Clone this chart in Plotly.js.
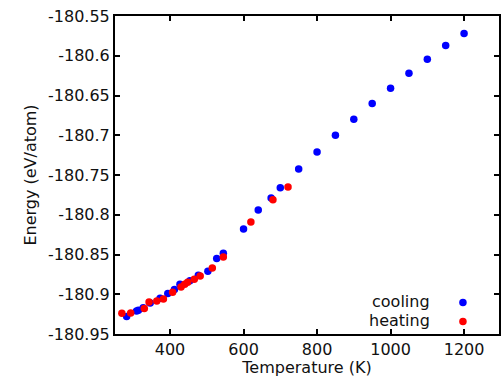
<!DOCTYPE html>
<html>
<head>
<meta charset="utf-8">
<script src="https://cdn.plot.ly/plotly-3.0.1.min.js"></script>
<style>html,body{margin:0;padding:0;background:#fff;}#chart{width:501px;height:377px;}</style>
</head>
<body>
<div id="chart"></div>
<script>
const coolingT = [1200,1150,1100,1050,1000,950,900,850,800,750,700,675,640,600,545,527,503,477,454,427,412,394,373,346,327,314,309,282];
const coolingE = [-180.572,-180.587,-180.6045,-180.622,-180.641,-180.66,-180.68,-180.700,-180.721,-180.7425,-180.766,-180.779,-180.794,-180.818,-180.8485,-180.855,-180.871,-180.876,-180.883,-180.8875,-180.894,-180.899,-180.905,-180.911,-180.917,-180.920,-180.921,-180.928];
const heatingT = [269,293,330,343,364,382,407,430,440,448,466,482,515,545,620,680,721];
const heatingE = [-180.924,-180.9236,-180.918,-180.9097,-180.9085,-180.906,-180.8975,-180.891,-180.8875,-180.885,-180.881,-180.877,-180.867,-180.853,-180.809,-180.781,-180.765];
const xTickVals = [400,600,800,1000,1200];
const xTickText = ['400','600','800','1000','1200'];
const yTickVals = [-180.55,-180.6,-180.65,-180.7,-180.75,-180.8,-180.85,-180.9,-180.95];
const yTickText = ['-180.55','-180.6','-180.65','-180.7','-180.75','-180.8','-180.85','-180.9','-180.95'];
const seriesNames = ['cooling','heating'];

const font = {family: 'DejaVu Sans', size: 16, color: '#111'};
const traces = [
  {x: coolingT, y: coolingE, type: 'scatter', mode: 'markers', name: ' ',
   marker: {color: '#0000ff', size: 7.5}},
  {x: heatingT, y: heatingE, type: 'scatter', mode: 'markers', name: ' ',
   marker: {color: '#ff0000', size: 7.5}}
];
const axisCommon = {
  showgrid: false, zeroline: false, showline: true, linewidth: 2, linecolor: '#000',
  mirror: 'ticks', ticks: 'inside', ticklen: 5, tickwidth: 2, tickcolor: '#000',
  tickfont: font
};
const layout = {
  width: 501, height: 377,
  margin: {l: 115, r: 2, t: 16, b: 43},
  paper_bgcolor: '#fff', plot_bgcolor: '#fff',
  font: font,
  xaxis: Object.assign({}, axisCommon, {
    range: [250.3, 1295], tickmode: 'array', tickvals: xTickVals, ticktext: xTickText,
    title: {text: 'Temperature (K)', font: font, standoff: 3}
  }),
  yaxis: Object.assign({}, axisCommon, {
    range: [-180.95, -180.55], tickmode: 'array', tickvals: yTickVals, ticktext: yTickText,
    title: {text: 'Energy (eV/atom)', font: font, standoff: 7}
  }),
  showlegend: true,
  legend: {x: 0.854, xanchor: 'left', y: 0.145, yanchor: 'top', bgcolor: 'rgba(0,0,0,0)',
           font: {family: 'DejaVu Sans', size: 12, color: '#111'}, tracegroupgap: 0},
  annotations: [
    {xref: 'paper', yref: 'paper', x: 0.8255, y: 0.1016, xanchor: 'right', yanchor: 'middle',
     text: seriesNames[0], showarrow: false, font: font},
    {xref: 'paper', yref: 'paper', x: 0.8255, y: 0.044, xanchor: 'right', yanchor: 'middle',
     text: seriesNames[1], showarrow: false, font: font}
  ]
};
Plotly.newPlot('chart', traces, layout, {displayModeBar: false, staticPlot: true});
</script>
</body>
</html>
